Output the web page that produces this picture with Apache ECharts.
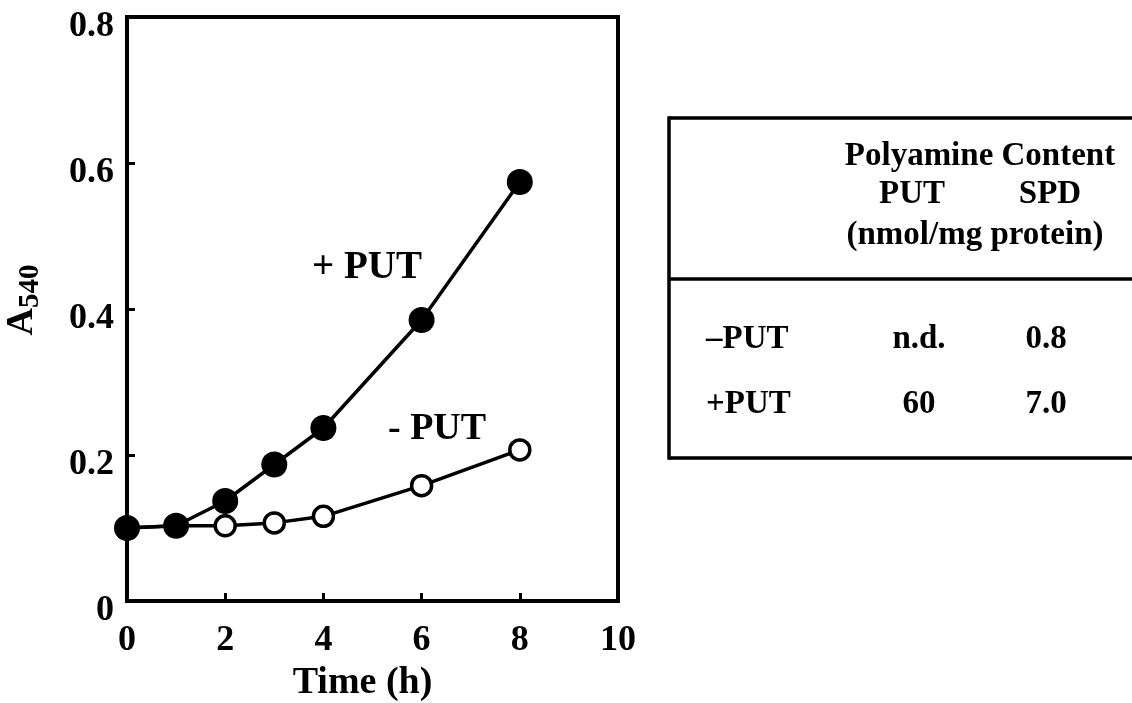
<!DOCTYPE html>
<html>
<head>
<meta charset="utf-8">
<script src="https://cdn.jsdelivr.net/npm/echarts@6/dist/echarts.min.js"></script>
<style>
html,body{margin:0;padding:0;background:#fff;}
#chart{width:1132px;height:703px;}
</style>
</head>
<body>
<div id="chart"></div>
<script>
// ---- data ----
const timeH = [0, 1, 2, 3, 4, 6, 8];
const plusPut = [0.100, 0.103, 0.137, 0.187, 0.237, 0.385, 0.574];
const minusPut = [0.100, 0.103, 0.103, 0.107, 0.116, 0.158, 0.207];
const xTicks = [0, 2, 4, 6, 8, 10];
const yTicks = [0, 0.2, 0.4, 0.6, 0.8];
const tableTitle = 'Polyamine Content';
const tableCols = ['PUT', 'SPD'];
const tableUnit = '(nmol/mg protein)';
const tableRows = ['\u2013PUT', '+PUT'];
const putContent = ['n.d.', '60'];
const spdContent = ['0.8', '7.0'];
const curveLabels = ['+ PUT', '- PUT'];

const FONT = '"Liberation Serif", "Times New Roman", serif';
const chart = echarts.init(document.getElementById('chart'));

function txt(text, x, y, size, align) {
  return { type: 'text', x: x, y: y, style: { text: text, font: 'bold ' + size + 'px ' + FONT, fill: '#000', align: align || 'center', verticalAlign: 'middle' } };
}
function line(x1, y1, x2, y2) {
  return { type: 'line', shape: { x1: x1, y1: y1, x2: x2, y2: y2 }, style: { stroke: '#000', lineWidth: 3.5 } };
}

const graphics = [
  txt(curveLabels[0], 312, 268, 39, 'left'),
  txt(curveLabels[1], 388, 429, 38, 'left'),
  // table frame
  line(669, 118, 1132, 118),
  line(669, 279, 1132, 279),
  line(669, 458, 1132, 458),
  line(669, 116.3, 669, 459.7),
  txt(tableTitle, 980, 156, 33),
  txt(tableCols[0], 912, 194, 33),
  txt(tableCols[1], 1050, 194, 33),
  txt(tableUnit, 975, 235, 33)
];
const rowY = [339, 404];
tableRows.forEach((r, i) => {
  graphics.push(txt(r, 706, rowY[i], 33, 'left'));
  graphics.push(txt(putContent[i], 919, rowY[i], 33));
  graphics.push(txt(spdContent[i], 1046, rowY[i], 33));
});

chart.setOption({
  animation: false,
  backgroundColor: '#fff',
  grid: { left: 127, top: 17, width: 491, height: 584, outerBoundsMode: 'none', containLabel: false,
    show: true, borderColor: '#000', borderWidth: 4, backgroundColor: 'transparent' },
  xAxis: {
    type: 'value', min: xTicks[0], max: xTicks[xTicks.length - 1], interval: 2,
    name: 'Time (h)', nameLocation: 'middle', nameGap: 57,
    nameTextStyle: { fontFamily: FONT, fontWeight: 'bold', fontSize: 38, color: '#000', padding: [0, 20, 0, 0] },
    axisLine: { show: true, lineStyle: { color: '#000', width: 4 } },
    axisTick: { show: true, inside: true, length: 8, lineStyle: { color: '#000', width: 3 } },
    axisLabel: { margin: 22, fontFamily: FONT, fontWeight: 'bold', fontSize: 36, color: '#000' },
    splitLine: { show: false }
  },
  yAxis: {
    type: 'value', min: yTicks[0], max: yTicks[yTicks.length - 1], interval: 0.2,
    name: '{a|A}{s|540}', nameLocation: 'middle', nameGap: 82, nameRotate: 90,
    nameTextStyle: {
      color: '#000',
      padding: [0, 0, 0, 18],
      rich: {
        a: { fontFamily: FONT, fontWeight: 'bold', fontSize: 38, color: '#000' },
        s: { fontFamily: FONT, fontWeight: 'bold', fontSize: 29, color: '#000', padding: [16, 0, 0, 0] }
      }
    },
    axisLine: { show: true, lineStyle: { color: '#000', width: 4 } },
    axisTick: { show: true, inside: true, length: 8, lineStyle: { color: '#000', width: 3 } },
    axisLabel: { margin: 13, color: '#000',
      formatter: v => '{v|' + (v === 0 ? '0' : v.toFixed(1)) + '}',
      rich: { v: { fontFamily: FONT, fontWeight: 'bold', fontSize: 36, color: '#000', padding: [20, 0, 0, 0] } } },
    splitLine: { show: false }
  },
  series: [
    {
      name: '- PUT', type: 'line', data: timeH.map((t, i) => [t, minusPut[i]]),
      symbol: 'circle', symbolSize: 20,
      lineStyle: { color: '#000', width: 3.5 },
      itemStyle: { color: '#fff', borderColor: '#000', borderWidth: 3.5 },
      z: 2
    },
    {
      name: '+ PUT', type: 'line', data: timeH.map((t, i) => [t, plusPut[i]]),
      symbol: 'circle', symbolSize: 26,
      lineStyle: { color: '#000', width: 3.5 },
      itemStyle: { color: '#000', borderColor: '#000', borderWidth: 0 },
      z: 3
    }
  ],
  graphic: graphics
});
</script>
</body>
</html>
